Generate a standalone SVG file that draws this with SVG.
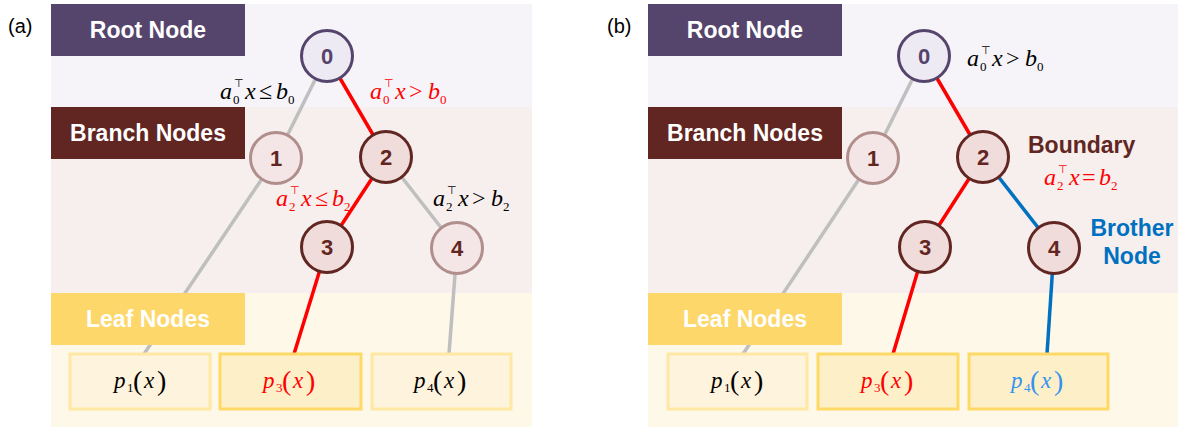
<svg xmlns="http://www.w3.org/2000/svg" width="1182" height="428" viewBox="0 0 1182 428">
  <style>
    .band-root { fill: #F6F4F9; }
    .band-branch { fill: #F7EFEE; }
    .band-leaf { fill: #FEF8E8; }
    .tag { font-family: "Liberation Sans", Arial, sans-serif; font-weight: bold; font-size: 23px; fill: #FFFFFF; text-anchor: middle; }
    .panel { font-family: "Liberation Sans", Arial, sans-serif; font-size: 20px; fill: #000000; }
    .edge { fill: none; stroke-width: 3.5; stroke-linecap: butt; }
    .gray { stroke: #BFBFBF; }
    .red { stroke: #FF0000; }
    .blue { stroke: #0070C0; }
    .num { font-family: "Liberation Sans", Arial, sans-serif; font-weight: bold; font-size: 22px; text-anchor: middle; }
    .n-root { fill: #EEEAF3; stroke: #55446B; stroke-width: 3; }
    .n-dark { fill: #F0DDDB; stroke: #612622; stroke-width: 3; }
    .n-light { fill: #F4E6E6; stroke: #B08E8C; stroke-width: 3; }
    .leaf-soft { fill: #FEF3DC; stroke: #FEE8A4; stroke-width: 3; }
    .leaf-hot { fill: #FDEFC8; stroke: #FFD966; stroke-width: 3; }
    .m { font-family: "Liberation Serif", "Times New Roman", serif; font-size: 24px; font-style: italic; }
    .pf { font-family: "Liberation Serif", "Times New Roman", serif; font-size: 23px; font-style: italic; }
    .sub { font-style: normal; font-size: 13px; }
    .tp { font-family: "DejaVu Sans", sans-serif; font-style: normal; font-size: 11px; }
    .rel { font-style: normal; }
    .par { font-style: normal; font-size: 28px; }
    .note { font-family: "Liberation Sans", Arial, sans-serif; font-weight: bold; font-size: 23px; }
  </style>

  <!-- level bands -->
  <g id="bands">
    <rect class="band-root" x="51" y="4" width="481" height="103"/>
    <rect class="band-branch" x="51" y="107" width="481" height="186"/>
    <rect class="band-leaf" x="51" y="293" width="481" height="134"/>
    <rect class="band-root" x="648" y="4" width="530" height="103"/>
    <rect class="band-branch" x="648" y="107" width="530" height="186"/>
    <rect class="band-leaf" x="648" y="293" width="530" height="134"/>
  </g>

  <text class="panel" x="8" y="33">(a)</text>
  <text class="panel" x="607" y="33">(b)</text>

  <!-- connectors -->
  <g id="connectors">
    <line class="edge gray" x1="327" y1="56" x2="276" y2="158"/>
    <line class="edge red" x1="327" y1="56" x2="386" y2="157"/>
    <line class="edge gray" x1="276" y1="158" x2="144" y2="354"/>
    <line class="edge red" x1="386" y1="157" x2="327" y2="247"/>
    <line class="edge gray" x1="386" y1="157" x2="457" y2="248"/>
    <line class="edge red" x1="327" y1="247" x2="294" y2="354"/>
    <line class="edge gray" x1="457" y1="248" x2="449" y2="354"/>

    <line class="edge gray" x1="924" y1="56" x2="873" y2="158"/>
    <line class="edge red" x1="924" y1="56" x2="983" y2="157"/>
    <line class="edge gray" x1="873" y1="158" x2="743" y2="354"/>
    <line class="edge red" x1="983" y1="157" x2="925" y2="247"/>
    <line class="edge blue" x1="983" y1="157" x2="1054" y2="248"/>
    <line class="edge red" x1="925" y1="247" x2="893" y2="354"/>
    <line class="edge blue" x1="1054" y1="248" x2="1047" y2="354"/>
  </g>

  <!-- level tags, drawn over the connectors -->
  <g id="tags-a">
    <rect x="51" y="4" width="194" height="52" fill="#55446B"/>
    <text class="tag" x="148" y="38">Root Node</text>
    <rect x="51" y="107" width="194" height="52" fill="#612622"/>
    <text class="tag" x="148" y="141">Branch Nodes</text>
    <rect x="51" y="293" width="194" height="52" fill="#FDD76A"/>
    <text class="tag" x="148" y="327">Leaf Nodes</text>
  </g>
  <g id="tags-b">
    <rect x="648" y="4" width="194" height="52" fill="#55446B"/>
    <text class="tag" x="745" y="38">Root Node</text>
    <rect x="648" y="107" width="194" height="52" fill="#612622"/>
    <text class="tag" x="745" y="141">Branch Nodes</text>
    <rect x="648" y="293" width="194" height="52" fill="#FDD76A"/>
    <text class="tag" x="745" y="327">Leaf Nodes</text>
  </g>

  <!-- panel (a) tree nodes -->
  <g id="a-node-0"><circle class="n-root" cx="327" cy="56" r="25.5"/><text class="num" x="327" y="64" fill="#55446B">0</text></g>
  <g id="a-node-1"><circle class="n-light" cx="276" cy="158" r="25.5"/><text class="num" x="276" y="166" fill="#612622">1</text></g>
  <g id="a-node-2"><circle class="n-dark" cx="386" cy="157" r="25.5"/><text class="num" x="386" y="165" fill="#612622">2</text></g>
  <g id="a-node-3"><circle class="n-dark" cx="327" cy="247" r="25.5"/><text class="num" x="327" y="255" fill="#612622">3</text></g>
  <g id="a-node-4"><circle class="n-light" cx="457" cy="248" r="25.5"/><text class="num" x="457" y="256" fill="#612622">4</text></g>

  <!-- panel (a) leaves -->
  <g id="a-leaf-1">
    <rect class="leaf-soft" x="70" y="354" width="140" height="55"/>
    <text class="pf" fill="#000"><tspan x="114" y="388">p</tspan><tspan class="sub" x="127" y="392">1</tspan><tspan class="par" x="133" y="390">(</tspan><tspan x="144" y="388">x</tspan><tspan class="par" x="157" y="390">)</tspan></text>
  </g>
  <g id="a-leaf-3">
    <rect class="leaf-hot" x="220" y="354" width="141" height="55"/>
    <text class="pf" fill="#FF0000"><tspan x="263" y="388">p</tspan><tspan class="sub" x="276" y="392">3</tspan><tspan class="par" x="282" y="390">(</tspan><tspan x="293" y="388">x</tspan><tspan class="par" x="306" y="390">)</tspan></text>
  </g>
  <g id="a-leaf-4">
    <rect class="leaf-soft" x="372" y="354" width="139" height="55"/>
    <text class="pf" fill="#000"><tspan x="414" y="388">p</tspan><tspan class="sub" x="427" y="392">4</tspan><tspan class="par" x="433" y="390">(</tspan><tspan x="444" y="388">x</tspan><tspan class="par" x="457" y="390">)</tspan></text>
  </g>

  <!-- panel (a) split conditions -->
  <g id="a-cond-0-left">
    <text class="m" fill="#000"><tspan x="220" y="99">a</tspan><tspan class="sub" x="233" y="104">0</tspan><tspan class="tp" x="234" y="87">⊤</tspan><tspan x="245" y="99">x</tspan><tspan class="rel" x="259" y="99">≤</tspan><tspan x="276" y="99">b</tspan><tspan class="sub" x="288" y="104">0</tspan></text>
  </g>
  <g id="a-cond-0-right">
    <text class="m" fill="#FF0000"><tspan x="370" y="99">a</tspan><tspan class="sub" x="383" y="104">0</tspan><tspan class="tp" x="384" y="87">⊤</tspan><tspan x="395" y="99">x</tspan><tspan class="rel" x="409" y="99">&gt;</tspan><tspan x="428" y="99">b</tspan><tspan class="sub" x="440" y="104">0</tspan></text>
  </g>
  <g id="a-cond-2-left">
    <text class="m" fill="#FF0000"><tspan x="276" y="206">a</tspan><tspan class="sub" x="289" y="211">2</tspan><tspan class="tp" x="290" y="194">⊤</tspan><tspan x="301" y="206">x</tspan><tspan class="rel" x="315" y="206">≤</tspan><tspan x="332" y="206">b</tspan><tspan class="sub" x="344" y="211">2</tspan></text>
  </g>
  <g id="a-cond-2-right">
    <text class="m" fill="#000"><tspan x="433" y="206">a</tspan><tspan class="sub" x="446" y="211">2</tspan><tspan class="tp" x="447" y="194">⊤</tspan><tspan x="458" y="206">x</tspan><tspan class="rel" x="472" y="206">&gt;</tspan><tspan x="491" y="206">b</tspan><tspan class="sub" x="503" y="211">2</tspan></text>
  </g>

  <!-- panel (b) tree nodes -->
  <g id="b-node-0"><circle class="n-root" cx="924" cy="56" r="25.5"/><text class="num" x="924" y="64" fill="#55446B">0</text></g>
  <g id="b-node-1"><circle class="n-light" cx="873" cy="158" r="25.5"/><text class="num" x="873" y="166" fill="#612622">1</text></g>
  <g id="b-node-2"><circle class="n-dark" cx="983" cy="157" r="25.5"/><text class="num" x="983" y="165" fill="#612622">2</text></g>
  <g id="b-node-3"><circle class="n-dark" cx="925" cy="247" r="25.5"/><text class="num" x="925" y="255" fill="#612622">3</text></g>
  <g id="b-node-4"><circle class="n-dark" cx="1054" cy="248" r="25.5"/><text class="num" x="1054" y="256" fill="#612622">4</text></g>

  <!-- panel (b) leaves -->
  <g id="b-leaf-1">
    <rect class="leaf-soft" x="668" y="354" width="139" height="55"/>
    <text class="pf" fill="#000"><tspan x="711" y="388">p</tspan><tspan class="sub" x="724" y="392">1</tspan><tspan class="par" x="730" y="390">(</tspan><tspan x="741" y="388">x</tspan><tspan class="par" x="754" y="390">)</tspan></text>
  </g>
  <g id="b-leaf-3">
    <rect class="leaf-hot" x="818" y="354" width="140" height="55"/>
    <text class="pf" fill="#FF0000"><tspan x="861" y="388">p</tspan><tspan class="sub" x="874" y="392">3</tspan><tspan class="par" x="880" y="390">(</tspan><tspan x="891" y="388">x</tspan><tspan class="par" x="904" y="390">)</tspan></text>
  </g>
  <g id="b-leaf-4">
    <rect class="leaf-hot" x="969" y="354" width="139" height="55"/>
    <text class="pf" fill="#3393F0"><tspan x="1011" y="388">p</tspan><tspan class="sub" x="1024" y="392">4</tspan><tspan class="par" x="1030" y="390">(</tspan><tspan x="1041" y="388">x</tspan><tspan class="par" x="1054" y="390">)</tspan></text>
  </g>

  <!-- panel (b) annotations -->
  <g id="b-cond-0">
    <text class="m" fill="#000"><tspan x="967" y="66">a</tspan><tspan class="sub" x="980" y="71">0</tspan><tspan class="tp" x="981" y="54">⊤</tspan><tspan x="992" y="66">x</tspan><tspan class="rel" x="1006" y="66">&gt;</tspan><tspan x="1025" y="66">b</tspan><tspan class="sub" x="1037" y="71">0</tspan></text>
  </g>
  <g id="b-boundary">
    <text class="note" x="1028" y="153" fill="#612622">Boundary</text>
    <text class="m" fill="#FF0000"><tspan x="1044" y="185">a</tspan><tspan class="sub" x="1057" y="190">2</tspan><tspan class="tp" x="1058" y="173">⊤</tspan><tspan x="1069" y="185">x</tspan><tspan class="rel" x="1082" y="185">=</tspan><tspan x="1099" y="185">b</tspan><tspan class="sub" x="1111" y="190">2</tspan></text>
  </g>
  <g id="b-brother">
    <text class="note" fill="#0070C0" text-anchor="middle"><tspan x="1132" y="236">Brother</tspan><tspan x="1132" y="264">Node</tspan></text>
  </g>
</svg>
